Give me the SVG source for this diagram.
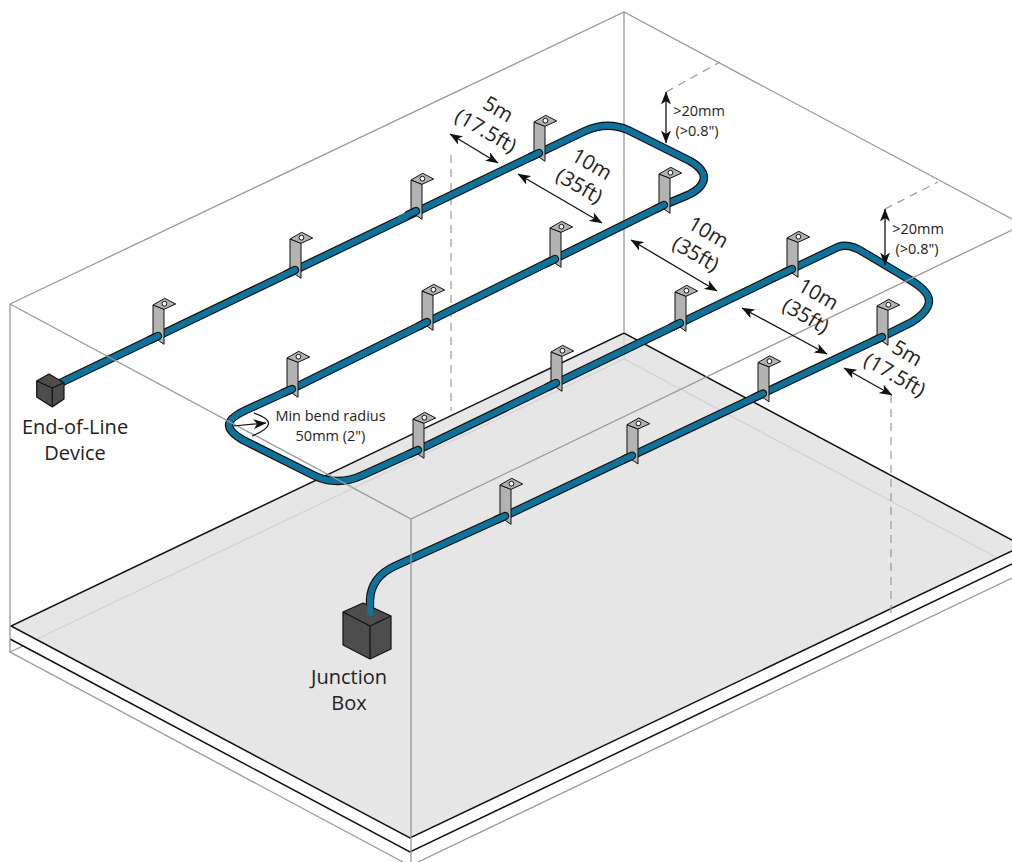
<svg xmlns="http://www.w3.org/2000/svg" width="1012" height="862" viewBox="0 0 1012 862">
<style>
text{font-family:"Open Sans","Liberation Sans",sans-serif;fill:#222;text-anchor:middle}
.box{fill:none;stroke:#999;stroke-width:1.3}
.faint{fill:none;stroke:#d2d2d2;stroke-width:1.2}
.slab{fill:none;stroke:#111;stroke-width:1.5}
.dash{fill:none;stroke:#999;stroke-width:1.2;stroke-dasharray:8 6}
.po{fill:none;stroke:#111;stroke-width:8.400;stroke-linecap:round;stroke-linejoin:round}
.pi{fill:none;stroke:#0f729b;stroke-width:6;stroke-linecap:round;stroke-linejoin:round}
.dim{fill:none;stroke:#111;stroke-width:1.3;marker-start:url(#a);marker-end:url(#a)}
.br{fill:#b3b3b3;stroke:#111;stroke-width:1;stroke-linejoin:round}
.cube{fill:#4d4d4d;stroke:#111;stroke-width:1.2;stroke-linejoin:round}
.cl{fill:none;stroke:#111;stroke-width:1.2;stroke-linejoin:round}
.l{font-size:20px}.d{font-size:20.500px}.s{font-size:14.500px}
</style>
<defs>
<marker id="a" viewBox="0 0 13 10" refX="12.500" refY="5" markerWidth="13" markerHeight="10" markerUnits="userSpaceOnUse" orient="auto-start-reverse"><path d="M0,0L13,5L0,10L3.500,5Z" fill="#111"/></marker>
<g id="b"><path class="br" d="M-5,-31L6,-26.7V8.3L-5,.7Z"/><path class="br" d="M-5,-31L6.7,-37.7L17.7,-32L6,-26.7Z"/><circle cx="6.4" cy="-32.3" r="2.4" fill="#fff" stroke="#111"/></g>
<path id="route" d="M54,386L539,153L585,131Q607,121 628,130L690,161Q704,169 704,178Q703,188 688,195L664,205L292,389L246,410Q229,418 229,425Q229,432 243,440L313,475Q337,487 363,475L418,450L792,269L838,247Q849,243 863,252L905,277Q929,290 929,301Q929,311 912,322L882,337L505,516L395,566Q371,577 370,600V613"/>
<path id="ends-o" d="M150,339.840L158,336M287,273.840L295,270M408,214.840L416,211M531,156.840L539,153M656,208.960L664,205M547,262.960L555,259M419,325.960L427,322M284,392.650L292,389M410,453.640L418,450M548,386.870L556,383M672,326.870L680,323M784,272.870L792,269M874,340.800L882,337M755,397.300L763,393.500M624,459.500L632,455.700M497,519.640L505,516"/>
<path id="ends-i" d="M142,343.680L158,336M279,277.680L295,270M400,218.680L416,211M523,160.680L539,153M648,212.910L664,205M539,266.910L555,259M411,329.910L427,322M276,396.300L292,389M402,457.270L418,450M540,390.740L556,383M664,330.740L680,323M776,276.740L792,269M866,344.600L882,337M747,401.100L763,393.500M616,463.300L632,455.700M489,523.270L505,516"/>
</defs>
<g id="floor">
<path d="M11,626L624,333L1023,546L411,838Z" fill="#e6e6e6"/>
<path class="faint" d="M37,639L624,359L996,557M624,333V359"/>
<path class="box" d="M10,652L23,646"/>
<path class="slab" d="M1012,540L624,333L11,626L410,838L1012,551M10,639L410,852L1012,564"/>
</g>
<g id="box-back"><path class="box" d="M10,304L624,12L1012,219M624,12V333"/></g>
<g id="guides">
<path class="dash" d="M451,155V411M891,395V613M666,92L720,62M885,209L938,182"/>
</g>
<g id="connectors">
<use href="#route" class="po"/><use href="#route" class="pi"/>
</g>
<g id="brackets">
<use href="#b" x="158" y="336"/><use href="#b" x="295" y="270"/><use href="#b" x="416" y="211"/><use href="#b" x="539" y="153"/>
<use href="#b" x="664" y="205"/><use href="#b" x="555" y="259"/><use href="#b" x="427" y="322"/><use href="#b" x="292" y="389"/>
<use href="#b" x="418" y="450"/><use href="#b" x="556" y="383"/><use href="#b" x="680" y="323"/><use href="#b" x="792" y="269"/>
<use href="#b" x="882" y="337"/><use href="#b" x="763" y="393.500"/><use href="#b" x="632" y="455.700"/><use href="#b" x="505" y="516"/>
</g>
<g id="pipe-fronts"><use href="#ends-o" class="po"/><use href="#ends-i" class="pi"/></g>
<g id="box-front"><path class="box" d="M10,304L411,519L1012,230M10,304V652L403,862M411,519V862M418,862L1012,578"/></g>
<g id="eol-device">
<path class="cube" d="M49,374L64,382.700V399L52.300,407L36.700,397V381Z"/><path class="cl" d="M36.700,381L52.300,388L64,382.700M52.300,388V407"/>
<text class="l" x="75" y="434">End-of-Line</text><text class="l" x="75" y="460">Device</text>
</g>
<g id="junction-box">
<path class="cube" d="M363,603L391,616V649L370,659L343,645V612Z"/><path class="cl" d="M343,612L370,626L391,616M370,626V659"/>
<path d="M370,598V613" fill="none" stroke="#0f729b" stroke-width="6" stroke-linecap="round"/>
<text class="l" x="349" y="684">Junction</text><text class="l" x="349" y="710">Box</text>
</g>
<g id="dimensions">
<path class="dim" d="M450,134L498,163"/><path class="dim" d="M518,174L602,223"/><path class="dim" d="M631,240L717,291"/><path class="dim" d="M742,308L827,354"/><path class="dim" d="M844,368L892,395"/><path class="dim" d="M666,92V143"/><path class="dim" d="M885,209V265"/>
<path d="M233,426L266,423" fill="none" stroke="#111" stroke-width="1.2" marker-end="url(#a)"/>
<path d="M254,413Q284,423 252,436" fill="none" stroke="#111" stroke-width="1.2"/>
</g>
<g id="labels">
<text class="s" x="330.500" y="421">Min bend radius</text><text class="s" x="330.500" y="441">50mm (2")</text>
<text class="s" x="699" y="116">&gt;20mm</text><text class="s" x="697" y="136">(&gt;0.8")</text>
<text class="s" x="918" y="234">&gt;20mm</text><text class="s" x="917" y="254">(&gt;0.8")</text>
<g transform="translate(492,120) rotate(30)"><text class="d" y="-5.500">5m</text><text class="d" y="19.500">(17.5ft)</text></g>
<g transform="translate(585.500,175) rotate(30)"><text class="d" y="-5.500">10m</text><text class="d" y="19.500">(35ft)</text></g>
<g transform="translate(702,243) rotate(30)"><text class="d" y="-5.500">10m</text><text class="d" y="19.500">(35ft)</text></g>
<g transform="translate(812,305) rotate(30)"><text class="d" y="-5.500">10m</text><text class="d" y="19.500">(35ft)</text></g>
<g transform="translate(901,364) rotate(30)"><text class="d" y="-5.500">5m</text><text class="d" y="19.500">(17.5ft)</text></g>
</g>
</svg>
